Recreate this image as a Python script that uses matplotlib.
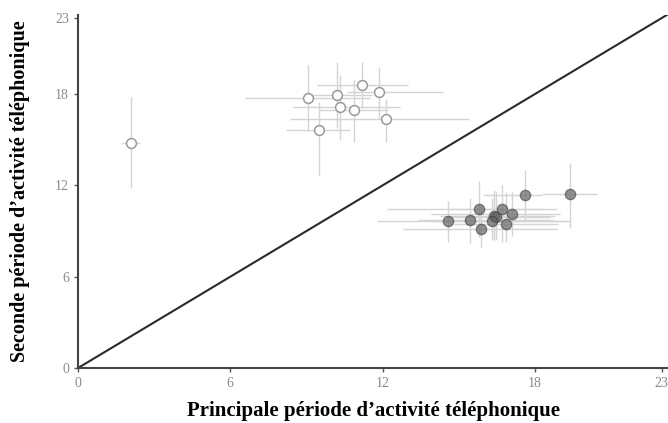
import matplotlib
matplotlib.use("Agg")
import matplotlib.pyplot as plt
import numpy as np

plt.rcParams['font.family'] = ['Liberation Serif', 'DejaVu Serif']

# open circles: second period above diagonal
open_x = [2.09, 9.07, 10.19, 11.20, 11.86, 10.34, 10.88, 12.14, 9.49]
open_y = [14.76, 17.72, 17.92, 18.61, 18.11, 17.13, 16.93, 16.36, 15.62]
open_x_lo = [1.74, 6.58, 9.26, 9.40, 10.60, 8.47, 9.50, 8.35, 8.20]
open_x_hi = [2.44, 11.50, 11.60, 13.00, 14.40, 12.70, 12.20, 15.40, 10.70]
open_y_lo = [11.80, 15.60, 15.80, 17.10, 16.40, 15.00, 14.85, 14.85, 12.70]
open_y_hi = [17.80, 19.90, 20.10, 20.10, 19.80, 19.25, 18.90, 17.70, 17.50]

# filled circles: second period below diagonal
fill_x = [14.58, 15.45, 15.79, 16.71, 17.10, 16.38, 16.46, 16.33, 16.88, 15.87, 17.60, 19.38]
fill_y = [9.64, 9.70, 10.43, 10.45, 10.10, 10.02, 9.92, 9.68, 9.46, 9.15, 11.37, 11.43]
fill_x_lo = [11.80, 13.40, 12.17, 14.65, 13.90, 14.26, 14.50, 14.00, 14.80, 12.80, 15.95, 18.30]
fill_x_hi = [19.40, 18.70, 18.87, 18.40, 19.00, 18.80, 18.60, 19.20, 18.90, 18.87, 18.30, 20.44]
fill_y_lo = [8.30, 8.20, 8.60, 8.30, 8.70, 8.40, 8.50, 8.40, 8.30, 7.95, 9.70, 9.20]
fill_y_hi = [11.00, 11.20, 12.30, 12.00, 11.60, 11.70, 11.60, 11.20, 11.60, 10.70, 13.00, 13.50]

x_ticks = [0, 6, 12, 18, 23]
y_ticks = [0, 6, 12, 18, 23]


def errs(v, lo, hi):
    v, lo, hi = np.array(v), np.array(lo), np.array(hi)
    return np.vstack([v - lo, hi - v])


fig = plt.figure(figsize=(6.68, 4.23), dpi=100)
ax = fig.add_axes([0.1168, 0.13, 0.8832, 0.8345])

ax.plot([0, 23.4], [0, 23.4], color='#2a2a2a', lw=1.5, zorder=2)

ax.errorbar(open_x, open_y,
            xerr=errs(open_x, open_x_lo, open_x_hi),
            yerr=errs(open_y, open_y_lo, open_y_hi),
            fmt='none', ecolor='#d4d4d4', elinewidth=1, zorder=1)
ax.errorbar(fill_x, fill_y,
            xerr=errs(fill_x, fill_x_lo, fill_x_hi),
            yerr=errs(fill_y, fill_y_lo, fill_y_hi),
            fmt='none', ecolor='#d4d4d4', elinewidth=1, zorder=1)

ax.scatter(open_x, open_y, s=50, facecolor='white', edgecolor='#9a9a9a',
           linewidth=1.1, zorder=3)
ax.scatter(fill_x, fill_y, s=55, facecolor=(0.38, 0.38, 0.38, 0.68),
           edgecolor=(0.25, 0.25, 0.25, 0.6), linewidth=1.0, zorder=3)

ax.set_xlim(0, 23.25)
ax.set_ylim(0, 23.2)
ax.set_xticks(x_ticks)
ax.set_yticks(y_ticks)
ax.tick_params(colors='#555555', labelcolor='#8a8a8a', labelsize=10,
               length=3, width=1)

for side in ['top', 'right']:
    ax.spines[side].set_visible(False)
for side in ['left', 'bottom']:
    ax.spines[side].set_color('#444444')
    ax.spines[side].set_linewidth(1.5)

ax.set_xlabel('Principale période d\u2019activité téléphonique',
              fontsize=15, fontweight='bold', labelpad=8)
ax.set_ylabel('Seconde période d\u2019activité téléphonique',
              fontsize=14.5, fontweight='bold', labelpad=18)

fig.savefig('out.png', dpi=100, facecolor='white')
